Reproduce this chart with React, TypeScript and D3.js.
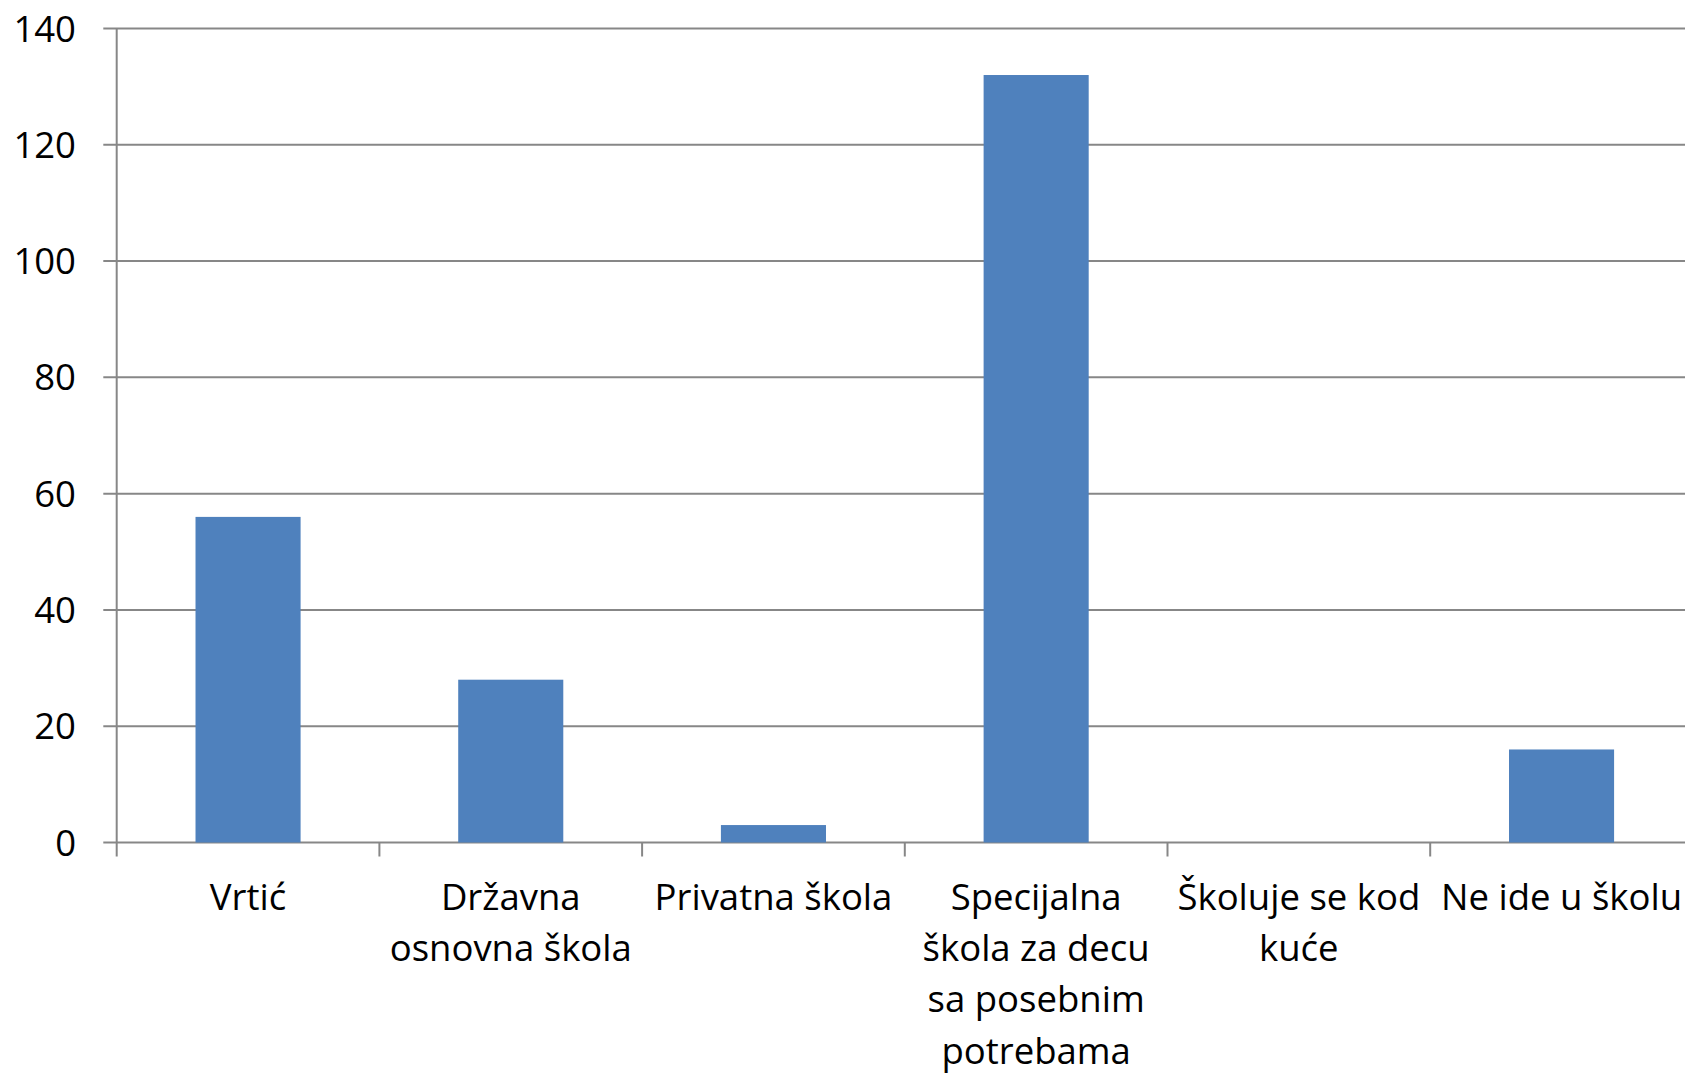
import React from "react";
import * as d3 from "d3";

const categories: string[] = [
  "Vrtić",
  "Državna\nosnovna škola",
  "Privatna škola",
  "Specijalna\nškola za decu\nsa posebnim\npotrebama",
  "Školuje se kod\nkuće",
  "Ne ide u školu",
];
const values: number[] = [56, 28, 3, 132, 0, 16];
const yTicks: number[] = [0, 20, 40, 60, 80, 100, 120, 140];

const W = 1685;
const H = 1074;
const left = 116.7;
const bandW = 262.7;
const yTop = 28.5;
const yBottom = 842.5;
const FONT = "'Open Sans', sans-serif";

export default function App() {
  const x = d3
    .scaleBand<string>()
    .domain(categories)
    .range([left, left + bandW * categories.length])
    .paddingInner(0)
    .paddingOuter(0);
  const y = d3.scaleLinear().domain([0, 140]).range([yBottom, yTop]);
  const barW = bandW * 0.4;
  const grid = "#878787";

  return (
    <svg
      width={W}
      height={H}
      style={{ position: "absolute", left: 0, top: 0, background: "#fff" }}
    >
      {yTicks.map((t) => (
        <g key={t}>
          <line x1={103.3} x2={W + 20} y1={y(t)} y2={y(t)} stroke={grid} strokeWidth={2} />
          <text
            x={76}
            y={y(t) + 13}
            textAnchor="end"
            fontFamily={FONT}
            fontSize={36.5}
            fill="#000"
          >
            {t}
          </text>
        </g>
      ))}
      <line x1={left} x2={left} y1={yTop} y2={yBottom + 14} stroke={grid} strokeWidth={2} />
      {categories.map((c, i) => (
        <line
          key={"t" + i}
          x1={(x(c) as number) + bandW}
          x2={(x(c) as number) + bandW}
          y1={yBottom}
          y2={yBottom + 14}
          stroke={grid}
          strokeWidth={2}
        />
      ))}
      {categories.map((c, i) => {
        const cx = (x(c) as number) + bandW / 2;
        return values[i] > 0 ? (
          <rect
            key={"b" + i}
            x={cx - barW / 2}
            y={y(values[i])}
            width={barW}
            height={yBottom - y(values[i])}
            fill="#4F81BD"
          />
        ) : null;
      })}
      {categories.map((c, i) => {
        const cx = (x(c) as number) + bandW / 2;
        return (
          <text
            key={"l" + i}
            textAnchor="middle"
            fontFamily={FONT}
            fontSize={36.5}
            fill="#000"
          >
            {c.split("\n").map((ln, j) => (
              <tspan key={j} x={cx} y={910 + j * 51.2}>
                {ln}
              </tspan>
            ))}
          </text>
        );
      })}
    </svg>
  );
}
